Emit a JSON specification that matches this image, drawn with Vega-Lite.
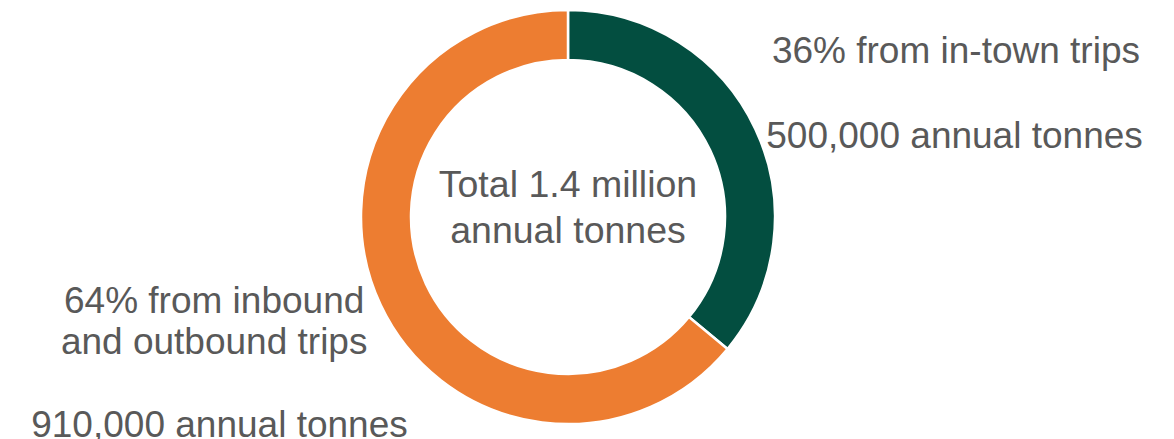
{
  "$schema": "https://vega.github.io/schema/vega-lite/v6.json",
  "autosize": "none",
  "width": 1136,
  "height": 434,
  "padding": {"left": 0, "top": 0, "right": 38, "bottom": 5},
  "background": "white",
  "config": {"view": {"stroke": null}, "text": {"font": "Liberation Sans"}},
  "data": {
    "values": [
      {"seq": 1, "segment": "In-town trips", "share": 36, "label": "36% from in-town trips", "tonnes": "500,000 annual tonnes"},
      {"seq": 2, "segment": "Inbound and outbound trips", "share": 64, "label": "64% from inbound\nand outbound trips", "tonnes": "910,000 annual tonnes"}
    ]
  },
  "layer": [
    {
      "mark": {"type": "arc", "outerRadius": 207, "innerRadius": 157, "stroke": "white", "strokeWidth": 2.5},
      "encoding": {
        "theta": {"field": "share", "type": "quantitative", "stack": true},
        "order": {"field": "seq", "type": "quantitative"},
        "color": {
          "field": "segment",
          "type": "nominal",
          "scale": {"domain": ["In-town trips", "Inbound and outbound trips"], "range": ["#034E40", "#ED7D31"]},
          "legend": null
        }
      }
    },
    {
      "mark": {"type": "text", "radius": 400, "dx": 26, "dy": 16.6, "fontSize": 37, "color": "#595959", "align": "center", "baseline": "alphabetic"},
      "encoding": {
        "theta": {"field": "share", "type": "quantitative", "stack": true},
        "order": {"field": "seq", "type": "quantitative"},
        "text": {"condition": {"test": "datum.seq === 1", "field": "label"}, "value": ""}
      }
    },
    {
      "mark": {"type": "text", "radius": 400, "dx": 24.6, "dy": 101, "fontSize": 37, "color": "#595959", "align": "center", "baseline": "alphabetic"},
      "encoding": {
        "theta": {"field": "share", "type": "quantitative", "stack": true},
        "order": {"field": "seq", "type": "quantitative"},
        "text": {"condition": {"test": "datum.seq === 1", "field": "tonnes"}, "value": ""}
      }
    },
    {
      "mark": {"type": "text", "radius": 380, "dx": -10, "dy": -65.5, "fontSize": 37, "lineHeight": 40.7, "color": "#595959", "align": "center", "baseline": "alphabetic", "lineBreak": "\n"},
      "encoding": {
        "theta": {"field": "share", "type": "quantitative", "stack": true},
        "order": {"field": "seq", "type": "quantitative"},
        "text": {"condition": {"test": "datum.seq === 2", "field": "label"}, "value": ""}
      }
    },
    {
      "mark": {"type": "text", "radius": 380, "dx": -4.7, "dy": 57.9, "fontSize": 37, "color": "#595959", "align": "center", "baseline": "alphabetic"},
      "encoding": {
        "theta": {"field": "share", "type": "quantitative", "stack": true},
        "order": {"field": "seq", "type": "quantitative"},
        "text": {"condition": {"test": "datum.seq === 2", "field": "tonnes"}, "value": ""}
      }
    },
    {
      "data": {"values": [{"label": "Total 1.4 million\nannual tonnes"}]},
      "mark": {"type": "text", "dy": -20.3, "fontSize": 37.5, "lineHeight": 46, "color": "#595959", "align": "center", "baseline": "alphabetic", "lineBreak": "\n"},
      "encoding": {
        "text": {"field": "label", "type": "nominal"}
      }
    }
  ]
}
